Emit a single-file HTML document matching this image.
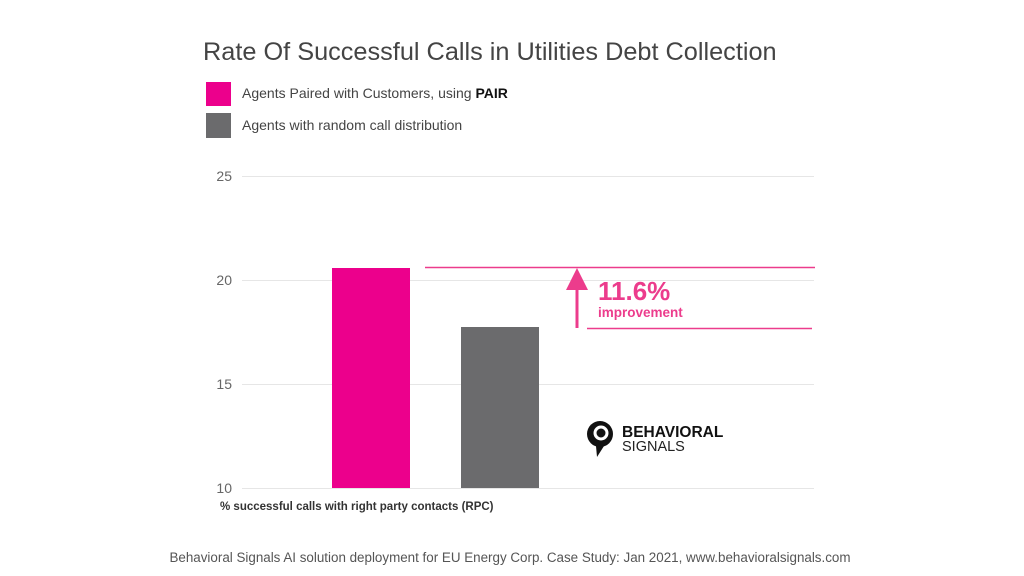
<!DOCTYPE html>
<html><head><style>
body{margin:0;width:1024px;height:576px;background:#fff;font-family:"Liberation Sans",sans-serif;position:relative;overflow:hidden}
.a{position:absolute;white-space:nowrap}
</style></head><body>
<div class="a" style="left:203px;top:38px;font-size:25.3px;color:#444">Rate Of Successful Calls in Utilities Debt Collection</div>
<div class="a" style="left:206px;top:82px;width:25px;height:24px;background:#ec008c"></div>
<div class="a" style="left:242px;top:85px;font-size:14px;color:#444">Agents Paired with Customers, using <b style="color:#111">PAIR</b></div>
<div class="a" style="left:206px;top:113px;width:25px;height:25px;background:#6b6b6d"></div>
<div class="a" style="left:242px;top:117px;font-size:14px;color:#444">Agents with random call distribution</div>
<svg class="a" style="left:0;top:0" width="1024" height="576">
<g stroke="#e6e6e6" stroke-width="1">
<line x1="242" x2="814" y1="176.5" y2="176.5"/><line x1="242" x2="814" y1="280.5" y2="280.5"/>
<line x1="242" x2="814" y1="384.5" y2="384.5"/><line x1="242" x2="814" y1="488.5" y2="488.5"/>
</g>
<g font-size="14" fill="#666" font-family="Liberation Sans" text-anchor="end">
<text x="232" y="181">25</text><text x="232" y="285">20</text><text x="232" y="389">15</text><text x="232" y="493">10</text>
</g>
<rect x="332" y="268" width="78" height="220" fill="#ec008c"/>
<rect x="461" y="327" width="78" height="161" fill="#6b6b6d"/>
<line x1="425" x2="815" y1="267.5" y2="267.5" stroke="#ec3c8c" stroke-width="1.5"/>
<line x1="587" x2="812" y1="328.5" y2="328.5" stroke="#ec3c8c" stroke-width="1.5"/>
<line x1="577" x2="577" y1="328" y2="285" stroke="#ec3c8c" stroke-width="3"/>
<polygon points="577,268 566,290 588,290" fill="#ec3c8c"/>
<text x="598" y="300" font-size="26" font-weight="bold" fill="#ec3c8c" font-family="Liberation Sans">11.6%</text>
<text x="598" y="317" font-size="13.5" font-weight="bold" fill="#ec3c8c" font-family="Liberation Sans">improvement</text>
<circle cx="600" cy="434" r="13" fill="#111"/>
<path d="M596 446 L597 457 L604 446Z" fill="#111"/>
<circle cx="601" cy="433" r="6" fill="none" stroke="#fff" stroke-width="3"/>
<text x="622" y="437" font-size="15.5" font-weight="bold" fill="#111" font-family="Liberation Sans">BEHAVIORAL</text>
<text x="622" y="451" font-size="14.5" fill="#222" font-family="Liberation Sans">SIGNALS</text>
</svg>
<div class="a" style="left:220px;top:501px;font-size:11.5px;font-weight:bold;color:#333">% successful calls with right party contacts (RPC)</div>
<div class="a" style="left:0;width:1020px;text-align:center;top:550px;font-size:13.4px;color:#555">Behavioral Signals AI solution deployment for EU Energy Corp. Case Study: Jan 2021, www.behavioralsignals.com</div>
</body></html>
